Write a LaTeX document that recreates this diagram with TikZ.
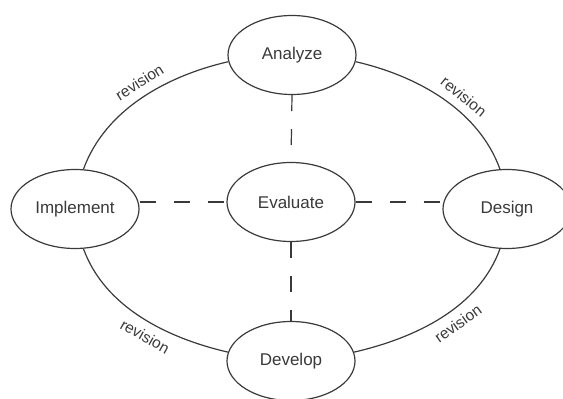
\documentclass[tikz,border=0pt]{standalone}
\usepackage{fontspec}
\setmainfont{Liberation Sans}
\usetikzlibrary{shapes.geometric}
\definecolor{ink}{HTML}{3A3A3A}
\begin{document}
\begin{tikzpicture}[x=1pt,y=-1pt,
  phase/.style={ellipse, draw=ink, line width=1.2pt, fill=white,
    minimum width=128pt, minimum height=79pt, inner sep=0pt,
    font=\fontsize{17}{20}\selectfont, text=ink},
  cyc/.style={draw=ink, line width=1.2pt, looseness=0.9},
  link/.style={draw=ink, line width=1.2pt, dash pattern=on 16pt off 18pt},
  rev/.style={font=\fontsize{15.5}{17}\selectfont, text=ink, sloped, inner sep=2pt}]
\useasboundingbox (0,0) rectangle (563,399);
\clip (0,0) rectangle (563,399);
\node[phase] (an) at (292,55) {Analyze};
\node[phase] (im) at (75,209) {Implement};
\node[phase] (ev) at (291,202) {Evaluate};
\node[phase] (de) at (507,209) {Design};
\node[phase] (dv) at (291,361) {Develop};
% outer cycle
\draw[cyc] (an.186) to[out=193,in=70]
  node[rev, pos=0.46, above=6pt] {revision} (im.78);
\draw[cyc] (im.282) to[out=290,in=167]
  node[rev, pos=0.57, below=6pt] {revision} (dv.172);
\draw[cyc] (dv.8) to[out=13,in=250]
  node[rev, pos=0.55, below=6pt] {revision} (de.260);
\draw[cyc] (de.100) to[out=110,in=347]
  node[rev, pos=0.42, above=6pt] {revision} (an.354);
% dashed spokes
\draw[link] (an.south) -- (ev.north);
\draw[link] (ev.south) -- (dv.north);
\draw[link] (ev.west -| im.east) -- (ev.west);
\draw[link] (ev.east) -- (ev.east -| de.west);
\end{tikzpicture}
\end{document}
